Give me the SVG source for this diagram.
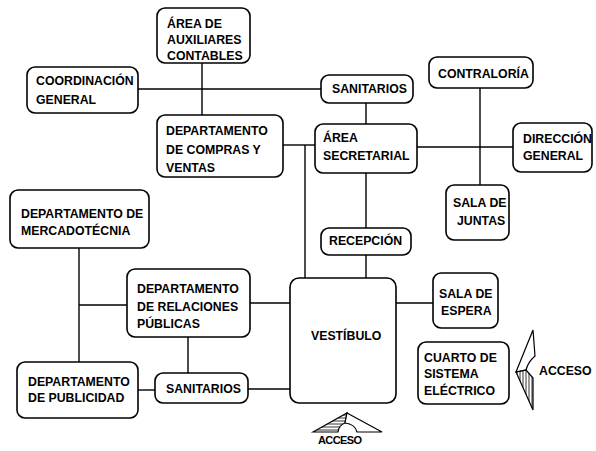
<svg xmlns="http://www.w3.org/2000/svg" width="596" height="451" viewBox="0 0 596 451">
<defs>
<style>
.box{fill:#fff;stroke:#000;stroke-width:1.6}
.t{font-family:"Liberation Sans",Arial,sans-serif;font-weight:bold;font-size:12.3px;fill:#000}
.c{stroke:#000;stroke-width:1.4;fill:none}
.sym{stroke:#000;stroke-width:1.2}
</style>
<pattern id="vh" width="3" height="3" patternUnits="userSpaceOnUse"><line x1="1" y1="0" x2="1" y2="3" stroke="#000" stroke-width="0.8"/></pattern>
<pattern id="hh" width="3" height="3" patternUnits="userSpaceOnUse"><line x1="0" y1="1" x2="3" y2="1" stroke="#000" stroke-width="0.8"/></pattern>
</defs>
<rect width="596" height="451" fill="#fff"/>
<g id="connectors">
<path class="c" d="M138 89 H321"/>
<path class="c" d="M202 63 V115"/>
<path class="c" d="M283 145 H315"/>
<path class="c" d="M305 145 V278"/>
<path class="c" d="M366 103 V124"/>
<path class="c" d="M417 147 H513"/>
<path class="c" d="M480 88 V185"/>
<path class="c" d="M366 173 V228"/>
<path class="c" d="M366 255 V278"/>
<path class="c" d="M396 303 H433"/>
<path class="c" d="M79 248 V362"/>
<path class="c" d="M79 305 H127"/>
<path class="c" d="M250 303 H290"/>
<path class="c" d="M188 337 V373"/>
<path class="c" d="M138 390 H155"/>
<path class="c" d="M248 389 H290"/>
</g>
<g id="aux"><rect class="box" x="157" y="8" width="93" height="55" rx="8"/><text class="t" x="167" y="28">ÁREA DE</text><text class="t" x="167" y="44">AUXILIARES</text><text class="t" x="167" y="60">CONTABLES</text></g>
<g id="coordinacion"><rect class="box" x="27" y="67" width="111" height="46" rx="8"/><text class="t" x="36" y="85">COORDINACIÓN</text><text class="t" x="36" y="104">GENERAL</text></g>
<g id="compras"><rect class="box" x="157" y="115" width="126" height="62" rx="8"/><text class="t" x="166" y="135">DEPARTAMENTO</text><text class="t" x="166" y="154">DE COMPRAS Y</text><text class="t" x="166" y="172">VENTAS</text></g>
<g id="mercadotecnia"><rect class="box" x="10" y="190" width="139" height="58" rx="8"/><text class="t" x="21" y="218">DEPARTAMENTO DE</text><text class="t" x="21" y="235">MERCADOTÉCNIA</text></g>
<g id="relaciones"><rect class="box" x="127" y="269" width="123" height="68" rx="8"/><text class="t" x="137" y="293">DEPARTAMENTO</text><text class="t" x="137" y="311">DE RELACIONES</text><text class="t" x="137" y="328">PÚBLICAS</text></g>
<g id="publicidad"><rect class="box" x="17" y="362" width="121" height="56" rx="8"/><text class="t" x="28" y="386">DEPARTAMENTO</text><text class="t" x="28" y="402">DE PUBLICIDAD</text></g>
<g id="sanitarios2"><rect class="box" x="155" y="373" width="93" height="30" rx="8"/><text class="t" x="166" y="393">SANITARIOS</text></g>
<g id="vestibulo"><rect class="box" x="290" y="278" width="106" height="125" rx="9"/><text class="t" x="311" y="340">VESTÍBULO</text></g>
<g id="sanitarios1"><rect class="box" x="321" y="75" width="92" height="28" rx="8"/><text class="t" x="332" y="93">SANITARIOS</text></g>
<g id="secretarial"><rect class="box" x="315" y="124" width="102" height="49" rx="8"/><text class="t" x="323" y="142">ÁREA</text><text class="t" x="323" y="160">SECRETARIAL</text></g>
<g id="contraloria"><rect class="box" x="429" y="57" width="104" height="31" rx="8"/><text class="t" x="438" y="78">CONTRALORÍA</text></g>
<g id="direccion"><rect class="box" x="513" y="123" width="79" height="49" rx="8"/><text class="t" x="523" y="143">DIRECCIÓN</text><text class="t" x="523" y="160">GENERAL</text></g>
<g id="juntas"><rect class="box" x="446" y="185" width="63" height="55" rx="8"/><text class="t" x="453" y="207">SALA DE</text><text class="t" x="457" y="225">JUNTAS</text></g>
<g id="recepcion"><rect class="box" x="321" y="228" width="90" height="27" rx="8"/><text class="t" x="329" y="245">RECEPCIÓN</text></g>
<g id="espera"><rect class="box" x="433" y="273" width="65" height="55" rx="8"/><text class="t" x="439" y="298">SALA DE</text><text class="t" x="441" y="315">ESPERA</text></g>
<g id="cuarto"><rect class="box" x="418" y="342" width="91" height="62" rx="8"/><text class="t" x="424" y="362">CUARTO DE</text><text class="t" x="424" y="378">SISTEMA</text><text class="t" x="424" y="395">ELÉCTRICO</text></g>
<g id="acceso-derecho">
<path class="sym" fill="#fff" d="M533 330 L516 372 L526 370 Q528 362 535 356 Z"/>
<path class="sym" fill="url(#vh)" d="M516 372 L526 370 L533 378 L533 410 Z"/>
<text class="t" x="539" y="375">ACCESO</text>
</g>
<g id="acceso-inferior">
<path class="sym" fill="url(#hh)" d="M313 432 L347 413 L345 423 Q339 425 338 432 Z"/>
<path class="sym" fill="#fff" d="M347 413 L382 432 L357 432 Q355 424 345 423 Z"/>
<text class="t" x="318" y="444" style="font-size:11px" textLength="44">ACCESO</text>
</g>
</svg>
